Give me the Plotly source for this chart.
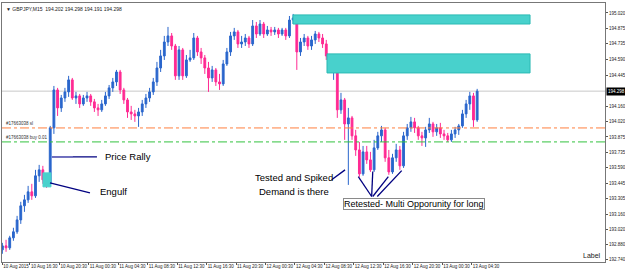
import pandas as pd
import plotly.graph_objects as go

# ---- data (GBPJPY M15 chart; 30-min samples) ----
start_time = "2015-08-10 12:45"
opens = [192.832,192.869,192.851,192.943,192.999,193.109,193.239,193.294,193.368,193.331,
         193.516,193.571,193.479,193.442,193.959,194.309,194.143,194.235,194.291,194.402,
         194.235,194.254,194.180,194.235,194.254,194.199,194.143,194.125,194.180,194.254,
         194.328,194.383,194.475,194.309,194.217,194.106,194.088,194.069,194.106,194.180,
         194.235,194.291,194.383,194.512,194.623,194.752,194.808,194.715,194.439,194.679,
         194.439,194.586,194.605,194.789,194.660,194.605,194.512,194.420,194.494,194.383,
         194.365,194.549,194.660,194.808,194.845,194.734,194.752,194.789,194.734,194.900,
         194.826,194.918,194.826,194.863,194.845,194.863,194.826,194.863,194.808,194.955,
         194.974,194.660,194.752,194.789,194.715,194.771,194.826,194.789,194.734,194.623,
         194.549,194.586,194.125,194.217,193.995,194.051,193.885,193.755,193.534,193.737,
         193.663,193.571,193.774,193.885,193.940,193.682,193.552,193.682,193.755,193.608,
         193.885,193.959,194.014,193.959,193.885,193.866,193.940,193.995,193.922,193.959,
         193.903,193.885,193.848,193.903,193.940,193.977,194.088,194.180,194.254,194.032]
highs = [192.897,192.925,192.962,193.036,193.146,193.276,193.340,193.423,193.442,193.571,
         193.617,193.608,193.525,193.977,194.346,194.328,194.263,194.328,194.439,194.420,
         194.291,194.272,194.263,194.291,194.272,194.226,194.180,194.217,194.291,194.355,
         194.420,194.494,194.494,194.328,194.235,194.162,194.125,194.143,194.217,194.272,
         194.328,194.420,194.568,194.679,194.808,194.891,194.835,194.734,194.715,194.697,
         194.632,194.679,194.835,194.808,194.697,194.632,194.568,194.531,194.512,194.457,
         194.586,194.697,194.845,194.882,194.863,194.808,194.826,194.808,194.955,194.937,
         194.955,194.937,194.900,194.891,194.891,194.882,194.882,194.882,194.992,195.011,
         194.992,194.789,194.826,194.808,194.808,194.854,194.845,194.826,194.771,194.632,
         194.623,194.605,194.282,194.235,194.143,194.069,193.940,193.829,193.792,193.792,
         193.737,193.848,193.922,193.977,193.959,193.755,193.719,193.811,193.792,193.922,
         193.995,194.060,194.051,193.977,193.922,193.968,194.051,194.014,193.995,194.005,
         193.940,193.912,193.940,193.968,193.995,194.125,194.217,194.291,194.282,194.319]
lows = [192.796,192.814,192.832,192.916,192.980,193.072,193.183,193.266,193.294,193.312,
        193.460,193.442,193.405,193.423,193.903,194.069,194.106,194.199,194.245,194.217,
        194.180,194.143,194.162,194.199,194.162,194.106,194.069,194.106,194.162,194.226,
        194.291,194.346,194.272,194.180,194.051,194.032,194.014,193.968,194.069,194.143,
        194.199,194.263,194.346,194.475,194.586,194.715,194.679,194.402,194.402,194.402,
        194.420,194.568,194.586,194.623,194.549,194.457,194.291,194.383,194.346,194.309,
        194.346,194.531,194.623,194.771,194.697,194.697,194.715,194.697,194.715,194.789,
        194.808,194.789,194.808,194.808,194.817,194.789,194.808,194.771,194.789,194.918,
        194.494,194.623,194.715,194.679,194.679,194.734,194.752,194.697,194.586,194.475,
        194.402,194.051,194.088,193.848,193.432,193.848,193.700,193.506,193.516,193.626,
        193.552,193.552,193.755,193.829,193.645,193.525,193.534,193.645,193.571,193.589,
        193.848,193.922,193.912,193.848,193.792,193.783,193.912,193.876,193.885,193.866,
        193.848,193.829,193.829,193.866,193.894,193.959,194.051,194.125,193.968,194.014]
closes = [192.869,192.851,192.943,192.999,193.109,193.239,193.294,193.368,193.331,193.516,
          193.571,193.479,193.442,193.959,194.309,194.143,194.235,194.291,194.402,194.235,
          194.254,194.180,194.235,194.254,194.199,194.143,194.125,194.180,194.254,194.328,
          194.383,194.475,194.309,194.217,194.106,194.088,194.069,194.106,194.180,194.235,
          194.291,194.383,194.512,194.623,194.752,194.808,194.715,194.439,194.679,194.439,
          194.586,194.605,194.789,194.660,194.605,194.512,194.420,194.494,194.383,194.365,
          194.549,194.660,194.808,194.845,194.734,194.752,194.789,194.734,194.900,194.826,
          194.918,194.826,194.863,194.845,194.863,194.826,194.863,194.808,194.955,194.974,
          194.660,194.752,194.789,194.715,194.771,194.826,194.789,194.734,194.623,194.549,
          194.586,194.125,194.217,193.995,194.051,193.885,193.755,193.534,193.737,193.663,
          193.571,193.774,193.885,193.940,193.682,193.552,193.682,193.755,193.608,193.885,
          193.959,194.014,193.959,193.885,193.866,193.940,193.995,193.922,193.959,193.903,
          193.885,193.848,193.903,193.940,193.977,194.088,194.180,194.254,194.032,194.298]

tick_times = ["2015-08-10 12:45", "2015-08-10 16:30", "2015-08-10 20:30", "2015-08-11 00:30",
              "2015-08-11 04:30", "2015-08-11 08:30", "2015-08-11 12:30", "2015-08-11 16:30",
              "2015-08-11 20:30", "2015-08-12 00:30", "2015-08-12 04:30", "2015-08-12 08:30",
              "2015-08-12 12:30", "2015-08-12 16:30", "2015-08-12 20:30", "2015-08-13 00:30",
              "2015-08-13 04:30"]
tick_text = ["10 Aug 2015", "10 Aug 16:30", "10 Aug 20:30", "11 Aug 00:30", "11 Aug 04:30",
             "11 Aug 08:30", "11 Aug 12:30", "11 Aug 16:30", "11 Aug 20:30", "12 Aug 00:30",
             "12 Aug 04:30", "12 Aug 08:30", "12 Aug 12:30", "12 Aug 16:30", "12 Aug 20:30",
             "13 Aug 00:30", "13 Aug 04:30"]
price_ticks = [195.020, 194.875, 194.735, 194.590, 194.445, 194.160, 194.020, 193.875,
               193.735, 193.590, 193.445, 193.305, 193.160, 193.020, 192.880, 192.740]
price_tick_text = ["195.020", "194.875", "194.735", "194.590", "194.445", "194.160", "194.020",
                   "193.875", "193.735", "193.590", "193.445", "193.305", "193.160", "193.020",
                   "192.880", "192.740"]
last_price = 194.298
sl_level = 193.958
buy_level = 193.829
supply_zones = [("2015-08-12 04:14", "2015-08-13 12:26", 194.918, 195.002),
                ("2015-08-12 08:51", "2015-08-13 12:26", 194.466, 194.642)]
engulf_zone = ("2015-08-10 18:16", "2015-08-10 19:21", 193.414, 193.543)

times = pd.date_range(start_time, periods=len(closes), freq="30min")

FONT = "Liberation Sans, Arial, sans-serif"
AXFONT = "Liberation Sans Narrow, Liberation Sans, Arial, sans-serif"
NAVY = "#000080"

fig = go.Figure()
fig.add_trace(go.Candlestick(
    x=times, open=opens, high=highs, low=lows, close=closes,
    increasing=dict(line=dict(color="#2a66cc", width=1), fillcolor="#2a66cc"),
    decreasing=dict(line=dict(color="#ff2a93", width=1), fillcolor="#ff2a93"),
    whiskerwidth=0, hoverinfo="skip", showlegend=False))

shapes = []
shapes.append(dict(type="line", xref="paper", x0=0, x1=1, yref="y", y0=last_price, y1=last_price,
                   line=dict(color="#c8c8c8", width=1), layer="below"))
shapes.append(dict(type="line", xref="paper", x0=0, x1=1, yref="y", y0=sl_level, y1=sl_level,
                   line=dict(color="#ff7f3f", width=1, dash="dashdot")))
shapes.append(dict(type="line", xref="paper", x0=0, x1=1, yref="y", y0=buy_level, y1=buy_level,
                   line=dict(color="#33c23f", width=1, dash="dashdot")))
for x0, x1, y0, y1 in supply_zones:
    shapes.append(dict(type="rect", x0=x0, x1=x1, y0=y0, y1=y1,
                       fillcolor="#48d1cc", line=dict(color="#2bbab4", width=1)))
shapes.append(dict(type="rect", x0=engulf_zone[0], x1=engulf_zone[1], y0=engulf_zone[2],
                   y1=engulf_zone[3], fillcolor="#48d1cc", line=dict(color="#48d1cc", width=1)))

def seg(x0, y0, x1, y1, color=NAVY, w=1.3):
    shapes.append(dict(type="line", x0=x0, y0=y0, x1=x1, y1=y1, line=dict(color=color, width=w)))

seg("2015-08-10 19:29", 193.691, "2015-08-11 01:36", 193.691)
seg("2015-08-10 19:29", 193.691, "2015-08-10 22:20", 193.691, color="#7070c0", w=1.6)
seg("2015-08-10 19:13", 193.451, "2015-08-11 00:39", 193.359)
seg("2015-08-12 09:29", 193.479, "2015-08-12 11:18", 193.571)
seg("2015-08-12 13:06", 193.509, "2015-08-12 14:55", 193.325)
seg("2015-08-12 15:04", 193.555, "2015-08-12 14:55", 193.325)
seg("2015-08-12 17:11", 193.509, "2015-08-12 15:04", 193.325)
seg("2015-08-12 19:00", 193.564, "2015-08-12 15:41", 193.325)

annotations = []
def txt(x, y, text, size=9.5, xanchor="left", **kw):
    annotations.append(dict(x=x, y=y, text=text, showarrow=False, xanchor=xanchor,
                            yanchor="middle", font=dict(family=FONT, size=size, color="#000"), **kw))

txt("2015-08-11 02:25", 193.691, "Price Rally")
txt("2015-08-11 01:44", 193.368, "Engulf")
txt("2015-08-12 04:22", 193.497, "Tested and Spiked", xanchor="center")
txt("2015-08-12 04:22", 193.368, "Demand is there", xanchor="center")
txt("2015-08-12 20:40", 193.257, "Retested- Multi Opporunity for long", size=9, xanchor="center",
    bgcolor="#ffffff", bordercolor="#8a8a8a", borderwidth=1, borderpad=0)

small = dict(family=FONT, size=4.5, color="#333")
annotations.append(dict(xref="paper", x=0.004, y=sl_level, yanchor="bottom", xanchor="left",
                        text="#17663038 sl", showarrow=False, font=small))
annotations.append(dict(xref="paper", x=0.004, y=buy_level, yanchor="bottom", xanchor="left",
                        text="#17663038 buy 0.01", showarrow=False, font=small))
annotations.append(dict(xref="paper", yref="paper", x=0.004, y=0.995, xanchor="left", yanchor="top",
                        text="\u25bc GBPJPY,M15  194.202 194.298 194.191 194.298", showarrow=False,
                        font=dict(family=FONT, size=5, color="#222")))
annotations.append(dict(xref="paper", yref="paper", x=0.997, y=0.005, xanchor="right",
                        yanchor="bottom", text="Label", showarrow=False,
                        font=dict(family=FONT, size=7, color="#222")))
annotations.append(dict(xref="paper", x=1.002, y=last_price, xanchor="left", yanchor="middle",
                        text="194.298", showarrow=False, bgcolor="#000000", borderpad=1,
                        font=dict(family=AXFONT, size=4.5, color="#ffffff")))

fig.update_layout(
    width=625, height=270,
    margin=dict(l=2, r=20, t=3, b=8),
    paper_bgcolor="#ffffff", plot_bgcolor="#ffffff",
    shapes=shapes, annotations=annotations,
    xaxis=dict(type="date", range=["2015-08-10 12:42", "2015-08-13 22:37"],
               rangeslider=dict(visible=False), tickmode="array", tickvals=tick_times,
               ticktext=tick_text, ticklabelposition="outside right", tickangle=0,
               ticks="outside", ticklen=2, tickcolor="#555", showgrid=False, zeroline=False,
               showline=True, linecolor="#777", linewidth=1, mirror=True, automargin=False,
               tickfont=dict(family=AXFONT, size=4.5, color="#222")),
    yaxis=dict(side="right", range=[192.72, 195.112], tickmode="array", tickvals=price_ticks,
               ticktext=price_tick_text, ticks="outside", ticklen=2, tickcolor="#555",
               showgrid=False, zeroline=False, showline=True, linecolor="#777", linewidth=1,
               mirror=True, automargin=False,
               tickfont=dict(family=AXFONT, size=4.5, color="#222")),
)

fig.write_html("out.html")
